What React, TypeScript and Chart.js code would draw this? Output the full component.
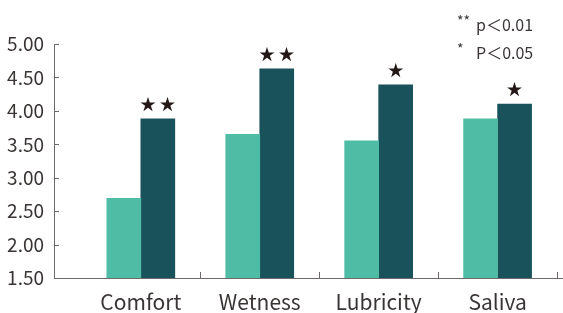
import React, { useEffect, useRef } from "react";
import { Chart, registerables } from "chart.js";

Chart.register(...registerables);

const categories = ["Comfort", "Wetness", "Lubricity", "Saliva"];
const seriesBefore = [2.69, 3.65, 3.55, 3.88];
const seriesAfter = [3.88, 4.63, 4.39, 4.10];
const significance = ["★★", "★★", "★", "★"];
const legendLines = [
  { mark: "**", text: "p＜0.01" },
  { mark: "*", text: "P＜0.05" },
];
const yTicks = [1.5, 2.0, 2.5, 3.0, 3.5, 4.0, 4.5, 5.0];

const FONT = '"Noto Sans CJK JP", "Noto Sans", sans-serif';
const AXIS_COLOR = "#6f6a6a";
const TEXT_COLOR = "#3a3535";

const overlayPlugin = {
  id: "overlay",
  afterDraw(chart: any) {
    const ctx = chart.ctx;
    const xs = chart.scales.x;
    const ys = chart.scales.y;
    const area = chart.chartArea;
    ctx.save();
    // inner tick marks
    ctx.strokeStyle = AXIS_COLOR;
    ctx.lineWidth = 1;
    ctx.beginPath();
    yTicks.forEach((v) => {
      const py = Math.round(ys.getPixelForValue(v)) + 0.5;
      ctx.moveTo(area.left, py);
      ctx.lineTo(area.left + 5, py);
    });
    for (let i = 0; i < categories.length; i++) {
      const px = Math.round(xs.getPixelForValue(i + 0.5)) + 0.5;
      ctx.moveTo(px, area.bottom);
      ctx.lineTo(px, area.bottom - 6);
    }
    ctx.stroke();

    // significance stars above dark bars
    const meta = chart.getDatasetMeta(1);
    ctx.fillStyle = "#231815";
    ctx.font = `16px ${FONT}`;
    ctx.textAlign = "center";
    ctx.textBaseline = "bottom";
    meta.data.forEach((bar: any, i: number) => {
      const s = significance[i];
      const spaced = s.split("").join(" ");
      ctx.fillText(spaced, bar.x, bar.y - 7);
    });

    // legend
    ctx.fillStyle = TEXT_COLOR;
    ctx.textBaseline = "middle";
    ctx.textAlign = "left";
    legendLines.forEach((l, i) => {
      const y = 25 + i * 28;
      ctx.font = `14px ${FONT}`;
      ctx.fillText(l.mark, 457, y - 4);
      ctx.font = `16px ${FONT}`;
      ctx.fillText(l.text, 476, y);
    });
    ctx.restore();
  },
};

export default function App() {
  const ref = useRef<HTMLCanvasElement>(null);
  useEffect(() => {
    document.body.style.margin = "0";
    const chart = new Chart(ref.current!, {
      type: "bar",
      data: {
        datasets: [
          {
            label: "before",
            data: seriesBefore.map((v, i) => ({ x: i, y: v })),
            backgroundColor: "#4fbda5",
            barThickness: 34,
          },
          {
            label: "after",
            data: seriesAfter.map((v, i) => ({ x: i, y: v })),
            backgroundColor: "#1a525b",
            barThickness: 34,
          },
        ],
      },
      plugins: [overlayPlugin],
      options: {
        animation: false,
        responsive: false,
        layout: { padding: { top: 44, right: 0, left: 0, bottom: 0 } },
        plugins: { legend: { display: false }, tooltip: { enabled: false } },
        scales: {
          x: {
            type: "linear",
            offset: false,
            bounds: "data",
            min: -0.73,
            max: 3.55,
            grid: { display: false, drawTicks: false, offset: false },
            border: { display: true, color: AXIS_COLOR, width: 1 },
            afterBuildTicks: (scale: any) => {
              scale.ticks = categories.map((_, i) => ({ value: i }));
            },
            afterFit: (scale: any) => {
              scale.height = 35;
            },
            ticks: {
              autoSkip: false,
              maxRotation: 0,
              padding: 11,
              color: TEXT_COLOR,
              font: { family: FONT, size: 21 },
              callback: (v: any) => categories[v as number] ?? "",
            },
          },
          y: {
            min: 1.5,
            max: 5.0,
            afterBuildTicks: (scale: any) => {
              scale.ticks = yTicks.map((v) => ({ value: v }));
            },
            afterFit: (scale: any) => {
              scale.width = 54;
            },
            grid: { display: false, drawTicks: false },
            border: { display: true, color: AXIS_COLOR, width: 1 },
            ticks: {
              padding: 10,
              color: TEXT_COLOR,
              font: { family: FONT, size: 19 },
              callback: (v: any) => Number(v).toFixed(2),
            },
          },
        },
      },
    });
    return () => chart.destroy();
  }, []);
  return (
    <div style={{ width: 563, height: 313 }}>
      <canvas ref={ref} width={563} height={313} style={{ width: 563, height: 313 }} />
    </div>
  );
}
